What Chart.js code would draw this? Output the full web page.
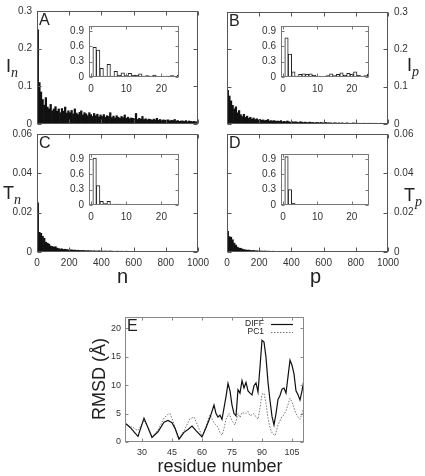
<!DOCTYPE html>
<html>
<head>
<meta charset="utf-8">
<script src="https://cdn.jsdelivr.net/npm/chart.js@4.4.1/dist/chart.umd.min.js"></script>
<style>
  body { margin: 0; background: #fff; width: 425px; height: 476px; overflow: hidden; position: relative;
         font-family: "Liberation Sans", Arial, sans-serif; color: #222; }
  canvas { position: absolute; left: 0; top: 0; }
  .lab { position: absolute; font-size: 18px; line-height: 1; white-space: nowrap; }
  .lab i { font-family: "Liberation Serif", serif; font-size: 14px; position: relative; top: 5px; }
  .big { font-size: 20px; }
</style>
</head>
<body>
<canvas id="cA" width="425" height="476"></canvas>
<canvas id="cB" width="425" height="476"></canvas>
<canvas id="cC" width="425" height="476"></canvas>
<canvas id="cD" width="425" height="476"></canvas>
<canvas id="cE" width="425" height="476"></canvas>
<canvas id="iA" width="425" height="476"></canvas>
<canvas id="iB" width="425" height="476"></canvas>
<canvas id="iC" width="425" height="476"></canvas>
<canvas id="iD" width="425" height="476"></canvas>

<div class="lab" style="left:6px;top:57px">I<i>n</i></div>
<div class="lab" style="left:3px;top:184px">T<i>n</i></div>
<div class="lab" style="left:407px;top:56px">I<i>p</i></div>
<div class="lab" style="left:404px;top:186px">T<i>p</i></div>
<div class="lab big" style="left:117px;top:266px">n</div>
<div class="lab big" style="left:310px;top:266px">p</div>
<div class="lab" style="left:120px;width:200px;text-align:center;top:457px">residue number</div>
<div class="lab" style="left:99px;top:379px;transform:translate(-50%,-50%) rotate(-90deg)">RMSD (Å)</div>

<script>
// ---- data ----
// main histograms: bins of 10 from 0 to 1000
const binWidth = 10;
const inValues = [0.25,0.11,0.085,0.065,0.05,0.07,0.045,0.04,0.052,0.035,
  0.04,0.046,0.034,0.04,0.03,0.041,0.034,0.045,0.029,0.035,
  0.03,0.036,0.027,0.04,0.029,0.025,0.031,0.035,0.024,0.03,
  0.027,0.022,0.03,0.025,0.02,0.028,0.022,0.026,0.019,0.024,
  0.02,0.025,0.018,0.022,0.02,0.03,0.017,0.021,0.016,0.022,
  0.018,0.015,0.02,0.017,0.024,0.015,0.018,0.014,0.016,0.015,
  0.014,0.028,0.012,0.015,0.013,0.02,0.012,0.014,0.011,0.013,
  0.012,0.01,0.013,0.011,0.015,0.01,0.012,0.009,0.011,0.01,
  0.009,0.011,0.008,0.01,0.009,0.012,0.008,0.009,0.007,0.008,
  0.008,0.007,0.009,0.006,0.008,0.007,0.006,0.007,0.006,0.005];
const ipValues = [0.09,0.075,0.062,0.05,0.04,0.046,0.03,0.036,0.025,0.02,
  0.026,0.018,0.021,0.015,0.018,0.013,0.016,0.012,0.014,0.011,
  0.012,0.01,0.011,0.009,0.01,0.012,0.008,0.009,0.008,0.009,
  0.007,0.008,0.007,0.009,0.006,0.007,0.006,0.008,0.006,0.005,
  0.006,0.005,0.006,0.005,0.004,0.006,0.005,0.004,0.005,0.004,
  0.004,0.005,0.004,0.004,0.003,0.004,0.004,0.003,0.004,0.003,
  0.003,0.004,0.003,0.003,0.003,0.002,0.003,0.003,0.002,0.003,
  0.002,0.003,0.002,0.002,0.003,0.002,0.002,0.002,0.003,0.002,
  0.002,0.002,0.002,0.001,0.002,0.002,0.001,0.002,0.002,0.001,
  0.002,0.001,0.002,0.001,0.001,0.002,0.001,0.001,0.001,0.001];
const tnValues = [0.025,0.010,0.0095,0.008,0.007,0.005,0.0045,0.004,0.003,0.0028,
  0.0025,0.0027,0.002,0.0017,0.0015,0.0016,0.0013,0.0014,0.0012,0.0011,
  0.001,0.0011,0.0009,0.001,0.0008,0.0009,0.0008,0.0007,0.0008,0.0007,
  0.0006,0.0007,0.0006,0.0006,0.0005,0.0006,0.0005,0.0005,0.0006,0.0005,
  0.0005,0.0004,0.0005,0.0004,0.0004,0.0005,0.0004,0.0004,0.0003,0.0004,
  0.0004,0.0003,0.0004,0.0003,0.0003,0.0004,0.0003,0.0003,0.0003,0.0003,
  0.0003,0.0003,0.0002,0.0003,0.0003,0.0002,0.0003,0.0002,0.0002,0.0003,
  0.0002,0.0002,0.0002,0.0003,0.0002,0.0002,0.0002,0.0002,0.0002,0.0002,
  0.0002,0.0002,0.0002,0.0002,0.0002,0.0002,0.0002,0.0002,0.0002,0.0002,
  0.0002,0.0002,0.0002,0.0002,0.0002,0.0002,0.0002,0.0002,0.0002,0.0002];
const tpValues = [0.0105,0.0078,0.0075,0.0062,0.0045,0.0035,0.0025,0.002,0.0019,0.0015,
  0.0012,0.0011,0.0009,0.001,0.0008,0.0007,0.0008,0.0006,0.0006,0.0005,
  0.0005,0.0005,0.0004,0.0005,0.0004,0.0004,0.0004,0.0003,0.0004,0.0003,
  0.0003,0.0003,0.0003,0.0003,0.0003,0.0003,0.0002,0.0003,0.0002,0.0002,
  0.0002,0.0002,0.0002,0.0002,0.0002,0.0002,0.0002,0.0002,0.0002,0.0002,
  0.0002,0.0002,0.0002,0.0002,0.0002,0.0002,0.0002,0.0002,0.0002,0.0002,
  0.0002,0.0002,0.0002,0.0002,0.0002,0.0002,0.0002,0.0002,0.0002,0.0002,
  0.0002,0.0002,0.0002,0.0002,0.0002,0.0002,0.0002,0.0002,0.0002,0.0002,
  0.0002,0.0002,0.0002,0.0002,0.0002,0.0002,0.0002,0.0002,0.0002,0.0002,
  0.0002,0.0002,0.0002,0.0002,0.0002,0.0002,0.0002,0.0002,0.0002,0.0002];

// insets: bins 1..25
const insetBins = [1,2,3,4,5,6,7,8,9,10,11,12,13,14,15,16,17,18,19,20,21,22,23,24,25];
const inInset = [0.58,0.53,0.17,0.02,0.25,0.02,0.11,0.04,0.08,0.03,0.07,0.04,0.04,0.06,0.02,0.03,0.02,0.04,0.01,0.01,0.02,0.02,0.03,0.02,0.04];
const ipInset = [0.77,0.45,0.10,0.02,0.05,0.06,0.05,0.06,0.04,0.02,0.01,0.01,0.03,0.06,0.03,0.05,0.08,0.04,0.07,0.05,0.10,0.04,0.02,0.03,0.05];
const tnInset = [0.92,0.38,0.07,0.03,0.07,0.01,0.02,0.02,0.01,0.01,0.015,0.01,0.005,0.005,0.005,0.005,0.005,0.005,0.005,0.005,0.005,0.005,0.005,0.005,0.005];
const tpInset = [0.95,0.30,0.04,0.01,0.01,0.01,0.01,0.01,0.01,0.01,0.01,0.01,0.01,0.01,0.01,0.01,0.01,0.01,0.01,0.01,0.01,0.01,0.01,0.01,0.01];

// panel E: RMSD per residue
const diffResidues = [22,24,26,28,31,33,35,38,41,43,45,46.5,48.5,51,53,55,57,60,62,64,66,67,68,69,70,72,73,74,75,76,77,78,79,80,81,82,83,84,85,86,87,88,89,90,91,92,93,94,95,96,97,98,99,100,101,102,103,104,105,106,107,108,109,110,111];
const diffRmsd    = [3.2,2.6,1.8,1.0,4.2,2.5,0.8,1.8,3.5,3.8,3.4,2.4,0.5,1.7,2.2,2.8,2.0,0.9,2.5,4.3,6.5,5.0,4.4,4.7,4.0,8.0,10.3,9.0,6.5,5.0,4.6,9.2,8.6,10.8,9.5,10.5,9.0,8.6,8.3,9.9,10.4,8.8,13.2,17.9,17.6,14.9,10.5,7.3,4.5,3.0,5.0,7.5,8.2,9.3,9.5,8.6,11.5,14.4,13.5,12.0,9.0,8.3,7.4,9.0,11.0];
const pc1Residues = [22,24,25,27,28,31,33,35,38,41,43,44,46,48.5,51,54,56,58,60,62,64,66,68,69,70,71,72,73.5,75,76.5,78,79,80,82,83,84,86,87,88,89,90,91,92,93,94,95,96.5,98,100,101,102,104,105,106,107,108,109,110,111];
const pc1Rmsd     = [3.1,2.5,2.7,2.2,2.0,3.8,2.6,0.9,2.1,4.2,4.9,5.0,3.2,0.6,2.0,4.1,4.4,2.8,1.0,2.8,4.8,3.4,2.6,1.6,1.2,2.4,4.0,5.0,3.8,3.0,5.0,4.3,5.2,5.0,5.4,4.6,5.0,4.4,4.0,6.0,8.4,8.6,6.8,4.2,2.5,1.6,1.1,3.0,4.5,4.8,5.5,7.7,7.0,6.0,5.0,4.4,4.0,5.0,6.2];

// ticks
const mainTicksX = [0, 200, 400, 600, 800, 1000];
const iTicksY = [0, 0.1, 0.2, 0.3];
const tTicksY = [0, 0.02, 0.04, 0.06];
const insetTicksX = [0, 10, 20];
const insetTicksY = [0, 0.3, 0.6, 0.9];
const eTicksX = [30, 45, 60, 75, 90, 105];
const eTicksY = [0, 5, 10, 15, 20];

// ---- drawing ----
const W = 425, H = 476;
const tickFont = { family: 'Liberation Sans', size: 10 };

const framePlugin = {
  id: 'frame',
  beforeDatasetsDraw(chart, args, o) {
    if (!o.fill) return;
    const a = chart.chartArea, ctx = chart.ctx;
    ctx.save();
    ctx.fillStyle = o.fill;
    ctx.fillRect(a.left, a.top, a.right - a.left, a.bottom - a.top);
    ctx.restore();
  },
  afterDraw(chart, args, o) {
    const { ctx, chartArea: a } = chart;
    const xs = chart.scales.x, ys = chart.scales.y;
    const L = Math.round(a.left) + 0.5, R = Math.round(a.right) - 0.5;
    const T = Math.round(a.top) + 0.5, B = Math.round(a.bottom) - 0.5;
    const len = o.len || 3;
    ctx.save();
    ctx.strokeStyle = o.color || '#555';
    ctx.lineWidth = 1;
    ctx.beginPath();
    xs.ticks.forEach(t => {
      const p = Math.round(xs.getPixelForValue(t.value)) + 0.5;
      ctx.moveTo(p, B); ctx.lineTo(p, B - len);
      ctx.moveTo(p, T); ctx.lineTo(p, T + len);
    });
    ys.ticks.forEach(t => {
      const p = Math.round(ys.getPixelForValue(t.value)) + 0.5;
      ctx.moveTo(L, p); ctx.lineTo(L + len, p);
      ctx.moveTo(R, p); ctx.lineTo(R - len, p);
    });
    ctx.stroke();
    ctx.strokeRect(L, T, R - L, B - T);
    if (o.letter) {
      ctx.fillStyle = '#222';
      ctx.font = '16px "Liberation Sans"';
      ctx.textBaseline = 'top';
      ctx.fillText(o.letter, a.left + 2, a.top + 2);
    }
    if (o.legend) {
      ctx.font = '8.5px "Liberation Sans"';
      ctx.textAlign = 'right';
      ctx.textBaseline = 'middle';
      chart.data.datasets.forEach((ds, i) => {
        const y = a.top + 7 + i * 8;
        ctx.fillStyle = '#222';
        ctx.fillText(ds.label, a.right - 40, y);
        ctx.strokeStyle = ds.borderColor;
        ctx.lineWidth = ds.borderWidth;
        ctx.setLineDash(ds.borderDash || []);
        ctx.beginPath();
        ctx.moveTo(a.right - 33, y + 0.5); ctx.lineTo(a.right - 11, y + 0.5);
        ctx.stroke();
      });
      ctx.setLineDash([]);
    }
    ctx.restore();
  }
};

function fixTicks(list) {
  return s => { s.ticks = list.map(v => ({ value: v })); };
}
const plainLabel = v => String(v);

// rect = plot area [left, top, right, bottom]; axis boxes get fixed sizes so the plot lands there
function makeChart(id, type, datasets, rect, x, y, frame) {
  const [l, t, r, b] = rect;
  const yw = y.w || 30, xh = x.h || 18;
  const yRight = y.pos === 'right';
  return new Chart(document.getElementById(id), {
    type: type,
    data: { datasets: datasets },
    plugins: [framePlugin],
    options: {
      responsive: false, animation: false, devicePixelRatio: 1,
      layout: { padding: {
        left: yRight ? l : l - yw,
        top: t,
        right: yRight ? W - r - yw : W - r,
        bottom: H - b - xh } },
      plugins: { legend: { display: false }, tooltip: { enabled: false }, frame: frame },
      scales: {
        x: {
          type: 'linear', position: 'bottom', offset: false,
          min: x.min, max: x.max,
          afterBuildTicks: fixTicks(x.ticks),
          afterFit: s => { s.height = xh; },
          grid: { display: false, drawTicks: false }, border: { display: false },
          ticks: { display: x.show, font: x.font || tickFont, color: '#333', padding: x.pad || 5,
                   maxRotation: 0, autoSkip: false, callback: plainLabel }
        },
        y: {
          type: 'linear', position: y.pos || 'left',
          min: y.min, max: y.max,
          afterBuildTicks: fixTicks(y.ticks),
          afterFit: s => { s.width = yw; },
          grid: { display: false, drawTicks: false }, border: { display: false },
          ticks: { display: true, font: y.font || tickFont, color: '#333', padding: y.pad || 5,
                   autoSkip: false, callback: plainLabel }
        }
      }
    }
  });
}

function histSet(values) {
  return [{
    data: values.map((v, i) => ({ x: i * binWidth + binWidth / 2, y: v })),
    backgroundColor: '#111', borderWidth: 0,
    barPercentage: 1, categoryPercentage: 1
  }];
}

function insetSet(values) {
  return [{
    data: values.map((v, i) => ({ x: insetBins[i], y: v })),
    backgroundColor: '#fff', borderColor: '#222', borderWidth: 1,
    barPercentage: 1, categoryPercentage: 1
  }];
}

const mainX = { min: 0, max: 1000, ticks: mainTicksX };

makeChart('cA', 'bar', histSet(inValues), [37, 7, 198, 124],
  { ...mainX, show: false }, { min: 0, max: 0.3, ticks: iTicksY }, { letter: 'A', len: 4 });
makeChart('cB', 'bar', histSet(ipValues), [227, 7, 388, 124],
  { ...mainX, show: false }, { min: 0, max: 0.3, ticks: iTicksY, pos: 'right', pad: 6 }, { letter: 'B', len: 4 });
makeChart('cC', 'bar', histSet(tnValues), [37, 134, 198, 252],
  { ...mainX, show: true }, { min: 0, max: 0.06, ticks: tTicksY }, { letter: 'C', len: 4 });
makeChart('cD', 'bar', histSet(tpValues), [227, 134, 388, 252],
  { ...mainX, show: true }, { min: 0, max: 0.06, ticks: tTicksY, pos: 'right', pad: 6 }, { letter: 'D', len: 4 });

const insetX = { min: -0.6, max: 25, ticks: insetTicksX, show: true, pad: 6 };
const insetY = { min: 0, max: 1, ticks: insetTicksY, w: 24 };
const insetFrame = { fill: '#fff', color: '#777', len: 3 };
makeChart('iA', 'bar', insetSet(inInset), [89, 26, 179, 77], insetX, insetY, insetFrame);
makeChart('iB', 'bar', insetSet(ipInset), [281, 26, 369, 77], insetX, insetY, insetFrame);
makeChart('iC', 'bar', insetSet(tnInset), [89, 154, 179, 205], insetX, insetY, insetFrame);
makeChart('iD', 'bar', insetSet(tpInset), [281, 154, 369, 205], insetX, insetY, insetFrame);

const eFont = { family: 'Liberation Sans', size: 9 };
makeChart('cE', 'line', [
  { label: 'DIFF', data: diffResidues.map((r, i) => ({ x: r, y: diffRmsd[i] })),
    borderColor: '#111', borderWidth: 1.2, pointRadius: 0, tension: 0, fill: false },
  { label: 'PC1', data: pc1Residues.map((r, i) => ({ x: r, y: pc1Rmsd[i] })),
    borderColor: '#777', borderWidth: 1, borderDash: [1.5, 1.5], pointRadius: 0, tension: 0, fill: false }
], [125, 317, 304, 442],
  { min: 21.5, max: 111, ticks: eTicksX, show: true, font: eFont, pad: 5 },
  { min: 0, max: 22, ticks: eTicksY, font: eFont, pad: 4, w: 22 },
  { letter: 'E', color: '#888', len: 3, legend: true });
</script>
</body>
</html>
